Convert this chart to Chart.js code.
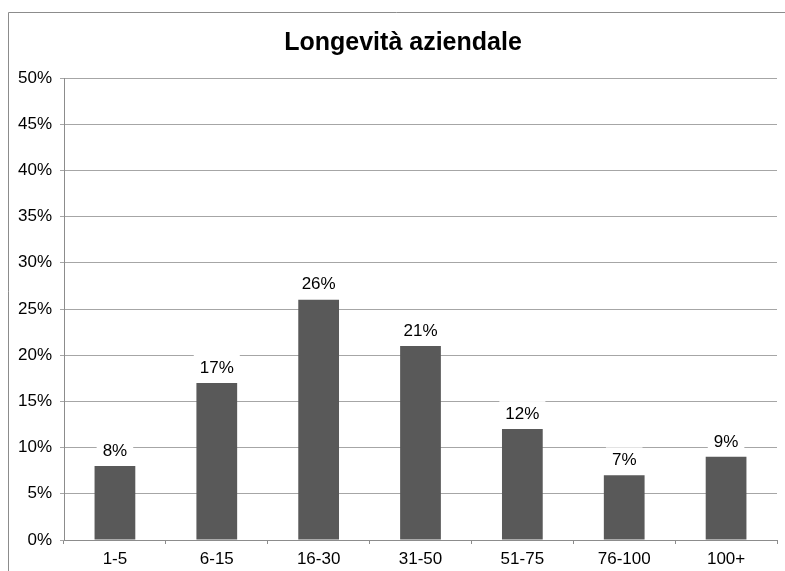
<!DOCTYPE html>
<html>
<head>
<meta charset="utf-8">
<script src="https://cdn.jsdelivr.net/npm/chart.js@4"></script>
<style>
    html, body { margin: 0; padding: 0; background: #fff; }
    #wrap { width: 785px; height: 571px; }
</style>
</head>
<body>
<div id="wrap"><canvas id="chart"></canvas></div>
<script>
const categories = ["1-5", "6-15", "16-30", "31-50", "51-75", "76-100", "100+"];
const values = [8, 17, 26, 21, 12, 7, 9];
const titleText = "Longevità aziendale";

const FONT = "'Liberation Sans', Arial, Helvetica, sans-serif";

// outer frame (only left and top edges are visible) + title centred on the frame
const framePlugin = {
    id: "frame",
    beforeDraw(chart) {
        const ctx = chart.ctx;
        ctx.save();
        ctx.strokeStyle = "#8c8c8c";
        ctx.lineWidth = 1;
        ctx.beginPath();
        ctx.moveTo(8.5, 571);
        ctx.lineTo(8.5, 12.5);
        ctx.lineTo(785, 12.5);
        ctx.stroke();
        ctx.font = "bold 25px " + FONT;
        ctx.fillStyle = "#000";
        ctx.textAlign = "center";
        ctx.textBaseline = "alphabetic";
        ctx.fillText(titleText, 403, 50);
        ctx.restore();
    },
};

// value labels above bars, with white box behind them
const labelPlugin = {
    id: "valueLabels",
    afterDatasetsDraw(chart) {
        const ctx = chart.ctx;
        const meta = chart.getDatasetMeta(0);
        ctx.save();
        ctx.font = "17px " + FONT;
        ctx.textAlign = "center";
        ctx.textBaseline = "middle";
        meta.data.forEach((bar, i) => {
            const text = values[i] + "%";
            const y = bar.y - 16;
            const w = ctx.measureText(text).width + 12;
            ctx.fillStyle = "#fff";
            ctx.fillRect(bar.x - w / 2, y - 12, w, 24);
            ctx.fillStyle = "#000";
            ctx.fillText(text, bar.x, y + 1);
        });
        ctx.restore();
    },
};

new Chart(document.getElementById("chart"), {
    type: "bar",
    data: {
        labels: categories,
        datasets: [
            {
                data: values,
                backgroundColor: "#595959",
                barPercentage: 0.4,
                categoryPercentage: 1,
            },
        ],
    },
    options: {
        responsive: true,
        maintainAspectRatio: false,
        animation: false,
        layout: { padding: { left: 10, right: 8, top: 78, bottom: 0 } },
        plugins: {
            legend: { display: false },
            tooltip: { enabled: false },
            title: { display: false },
        },
        scales: {
            x: {
                grid: {
                    display: true,
                    drawOnChartArea: false,
                    tickLength: 4,
                    color: "#8c8c8c",
                },
                border: { color: "#8c8c8c" },
                ticks: {
                    color: "#000",
                    padding: 5,
                    font: { family: FONT, size: 17 },
                },
                afterFit(scale) {
                    scale.height = 31;
                },
            },
            y: {
                min: 0,
                max: 50,
                grid: {
                    color: "#a6a6a6",
                    tickLength: 4,
                },
                border: { color: "#8c8c8c" },
                ticks: {
                    stepSize: 5,
                    color: "#000",
                    padding: 8,
                    font: { family: FONT, size: 17 },
                    callback: (v) => v + "%",
                },
                afterFit(scale) {
                    scale.width = 54;
                },
            },
        },
    },
    plugins: [framePlugin, labelPlugin],
});
</script>
</body>
</html>
